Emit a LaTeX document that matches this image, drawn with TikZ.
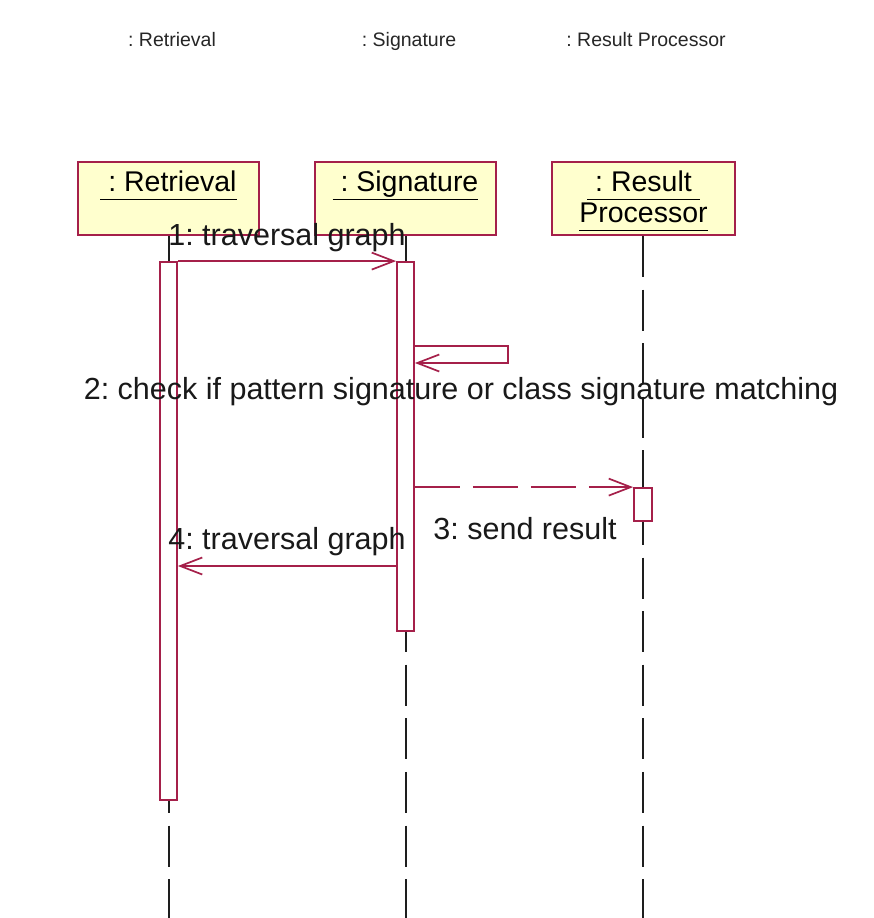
\documentclass[tikz,border=0pt]{standalone}
\usepackage{fontspec}
\setmainfont{Liberation Sans}
\usetikzlibrary{arrows.meta}
\definecolor{umlred}{RGB}{165,32,74}
\definecolor{umlfill}{RGB}{255,255,206}
\definecolor{lifegray}{RGB}{30,30,30}
\frenchspacing
% underlined object name with a fixed underline depth
\newcommand{\objname}[1]{\underline{\vphantom{gp}#1}}
\begin{document}
\begin{tikzpicture}[x=1pt,y=-1pt,
  objbox/.style={draw=umlred,fill=umlfill,line width=1.8pt,rectangle,inner sep=0pt},
  objtitle/.style={inner sep=0pt,align=center,font=\fontsize{28.5}{31}\selectfont},
  headlabel/.style={inner sep=0pt,anchor=base,font=\fontsize{19.5}{21}\selectfont,text=black!85},
  actbox/.style={draw=umlred,fill=white,line width=1.8pt,rectangle,inner sep=0pt,minimum width=17pt},
  lifeline/.style={draw=lifegray,line width=2pt,dash pattern=on 41pt off 12.6pt},
  msg/.style={draw=umlred,line width=1.7pt,-{Straight Barb[length=22pt,width=17pt,line width=1.7pt]}},
  replymsg/.style={msg,dash pattern=on 45pt off 13pt},
  msglabel/.style={inner sep=0pt,anchor=base,font=\fontsize{30.5}{33}\selectfont,text=black!90}]
\useasboundingbox (0,0) rectangle (873,918);
\fill[white] (0,0) rectangle (873,918);

% column headings
\node[headlabel] (hret) at (172,46) {: Retrieval};
\node[headlabel] (hsig) at (409,46) {: Signature};
\node[headlabel] (hres) at (646,46) {: Result Processor};

% object boxes
\node[objbox,minimum width=181pt,minimum height=73pt] (ret) at (168.5,198.5) {};
\node[objbox,minimum width=181pt,minimum height=73pt] (sig) at (405.5,198.5) {};
\node[objbox,minimum width=183pt,minimum height=73pt] (res) at (643.5,198.5) {};
\node[objtitle,anchor=north] (tret) at ([yshift=-10pt]ret.north) {\objname{\ : Retrieval}};
\node[objtitle,anchor=north] (tsig) at ([yshift=-10pt]sig.north) {\objname{\ : Signature}};
\node[objtitle,anchor=north] (tres) at ([yshift=-10pt]res.north) {\objname{\ : Result\ }\\\objname{Processor}};

% lifeline ends
\coordinate (retend) at (168.5,918);
\coordinate (sigend) at (405.5,918);
\coordinate (resend) at (643,918);
\draw[lifeline] (ret.south) -- (retend);
\draw[lifeline] (sig.south) -- (sigend);
\draw[lifeline] ([xshift=-0.5pt]res.south) -- (resend);

% activation bars
\node[actbox,minimum height=538pt] (retact) at (168.5,531) {};
\node[actbox,minimum height=369pt] (sigact) at (405.5,446.5) {};
\node[actbox,minimum width=18pt,minimum height=33pt] (resact) at (643,504.5) {};

% 1: call
\draw[msg] (retact.north east) -- (sigact.north west);
\node[msglabel] (l1) at (287,245) {1: traversal graph};

% 2: self call
\coordinate (s1) at (sigact.east |- 0,346);
\coordinate (s2) at (508,346);
\coordinate (s3) at (508,363);
\coordinate (s4) at (sigact.east |- 0,363);
\draw[msg] (s1) -- (s2) -- (s3) -- (s4);
\node[msglabel] (l2) at (461,399) {2: check if pattern signature or class signature matching};

% 3: send result
\draw[replymsg] (sigact.east |- resact.north) -- (resact.north west);
\node[msglabel] (l3) at (525,539) {3: send result};

% 4: return
\coordinate (r1) at (sigact.west |- 0,566);
\coordinate (r2) at (retact.east |- 0,566);
\draw[msg] (r1) -- (r2);
\node[msglabel] (l4) at (287,549) {4: traversal graph};
\end{tikzpicture}
\end{document}
